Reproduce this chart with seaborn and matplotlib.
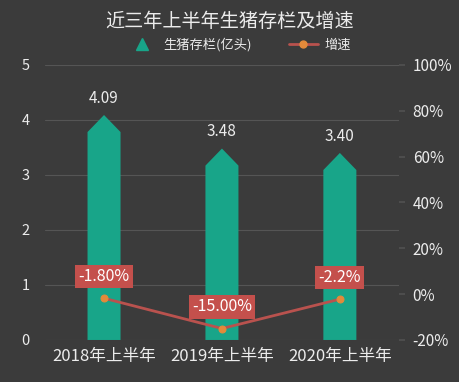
import numpy as np
import matplotlib
matplotlib.use("Agg")
import matplotlib.pyplot as plt
from matplotlib.patches import Polygon
from matplotlib.lines import Line2D
from matplotlib.ticker import FuncFormatter
import seaborn as sns

periods = ["2018年上半年", "2019年上半年", "2020年上半年"]
stock = [4.09, 3.48, 3.40]           # 亿头
growth = [-1.80, -15.00, -2.2]       # %
growth_labels = ["-1.80%", "-15.00%", "-2.2%"]

BG = "#3b3b3b"
TEAL = "#18a589"
LINE_RED = "#b9524e"
DOT = "#e48a3a"
BOX_RED = "#c4504c"
TXT = "#ececec"

sns.set_theme(style="dark")
plt.rcParams["font.family"] = ["Noto Sans CJK SC", "DejaVu Sans"]
plt.rcParams["axes.unicode_minus"] = False

fig = plt.figure(figsize=(4.6, 3.82), dpi=100, facecolor=BG)
ax = fig.add_axes([0.098, 0.11, 0.769, 0.72], facecolor=BG)

sns.barplot(x=periods, y=stock, width=0.28, color=TEAL, saturation=1, ax=ax)

# turn the rectangles into arrow-shaped pentagons
tip = 0.31
for p in list(ax.patches):
    x0, w, h = p.get_x(), p.get_width(), p.get_height()
    poly = Polygon([(x0, 0), (x0, h - tip), (x0 + w / 2, h),
                    (x0 + w, h - tip), (x0 + w, 0)],
                   closed=True, facecolor=TEAL, edgecolor="none", zorder=2)
    p.remove()
    ax.add_patch(poly)
    ax.annotate(f"{h:.2f}", (x0 + w / 2, h), xytext=(0, 6),
                textcoords="offset points", ha="center", va="bottom",
                color=TXT, fontsize=11)

ax.set_ylim(0, 5)
ax.set_yticks(range(6))
ax.set_xlim(-0.5, 2.5)
ax.grid(axis="y", color="#555555", linewidth=0.8)
ax.grid(axis="x", visible=False)
ax.set_axisbelow(True)
ax.tick_params(axis="y", colors=TXT, labelsize=10.5, length=0, pad=11)
ax.tick_params(axis="x", colors=TXT, labelsize=12, length=0, pad=6)
ax.set_xlabel("")
ax.set_ylabel("")
for s in ax.spines.values():
    s.set_visible(False)

ax2 = ax.twinx()
sns.lineplot(x=periods, y=growth, ax=ax2, color=LINE_RED, linewidth=2,
             marker="o", markersize=5, markerfacecolor=DOT,
             markeredgecolor=DOT, sort=False, zorder=3)
ax2.set_ylim(-20, 100)
ax2.set_yticks(range(-20, 101, 20))
ax2.yaxis.set_major_formatter(FuncFormatter(lambda v, _: f"{v:.0f}%"))
ax2.tick_params(axis="y", colors=TXT, labelsize=11, length=4,
                color="#505050", pad=6)
ax2.grid(False)
ax2.set_ylabel("")
for s in ax2.spines.values():
    s.set_visible(False)

for i, (v, lab) in enumerate(zip(growth, growth_labels)):
    ax2.annotate(lab, (i, v), xytext=(0, 15.5), textcoords="offset points",
                 ha="center", va="center", color="white", fontsize=11.5,
                 bbox=dict(boxstyle="square,pad=0.2", facecolor=BOX_RED,
                           edgecolor="none"), zorder=5)

fig.text(0.5, 0.945, "近三年上半年生猪存栏及增速", ha="center", va="center",
         color=TXT, fontsize=13.8)

handles = [
    Line2D([], [], marker="^", linestyle="none", color=TEAL, markersize=8),
    Line2D([], [], color=LINE_RED, linewidth=2, marker="o", markersize=5,
           markerfacecolor=DOT, markeredgecolor=DOT),
]
leg = fig.legend(handles, ["生猪存栏(亿头)", "增速"], loc="center",
                 bbox_to_anchor=(0.52, 0.882), ncol=2, frameon=False,
                 fontsize=9.5, handlelength=2.2, columnspacing=2.8,
                 handletextpad=0.5)
for t in leg.get_texts():
    t.set_color(TXT)

fig.savefig("out.png", dpi=100, facecolor=BG)
